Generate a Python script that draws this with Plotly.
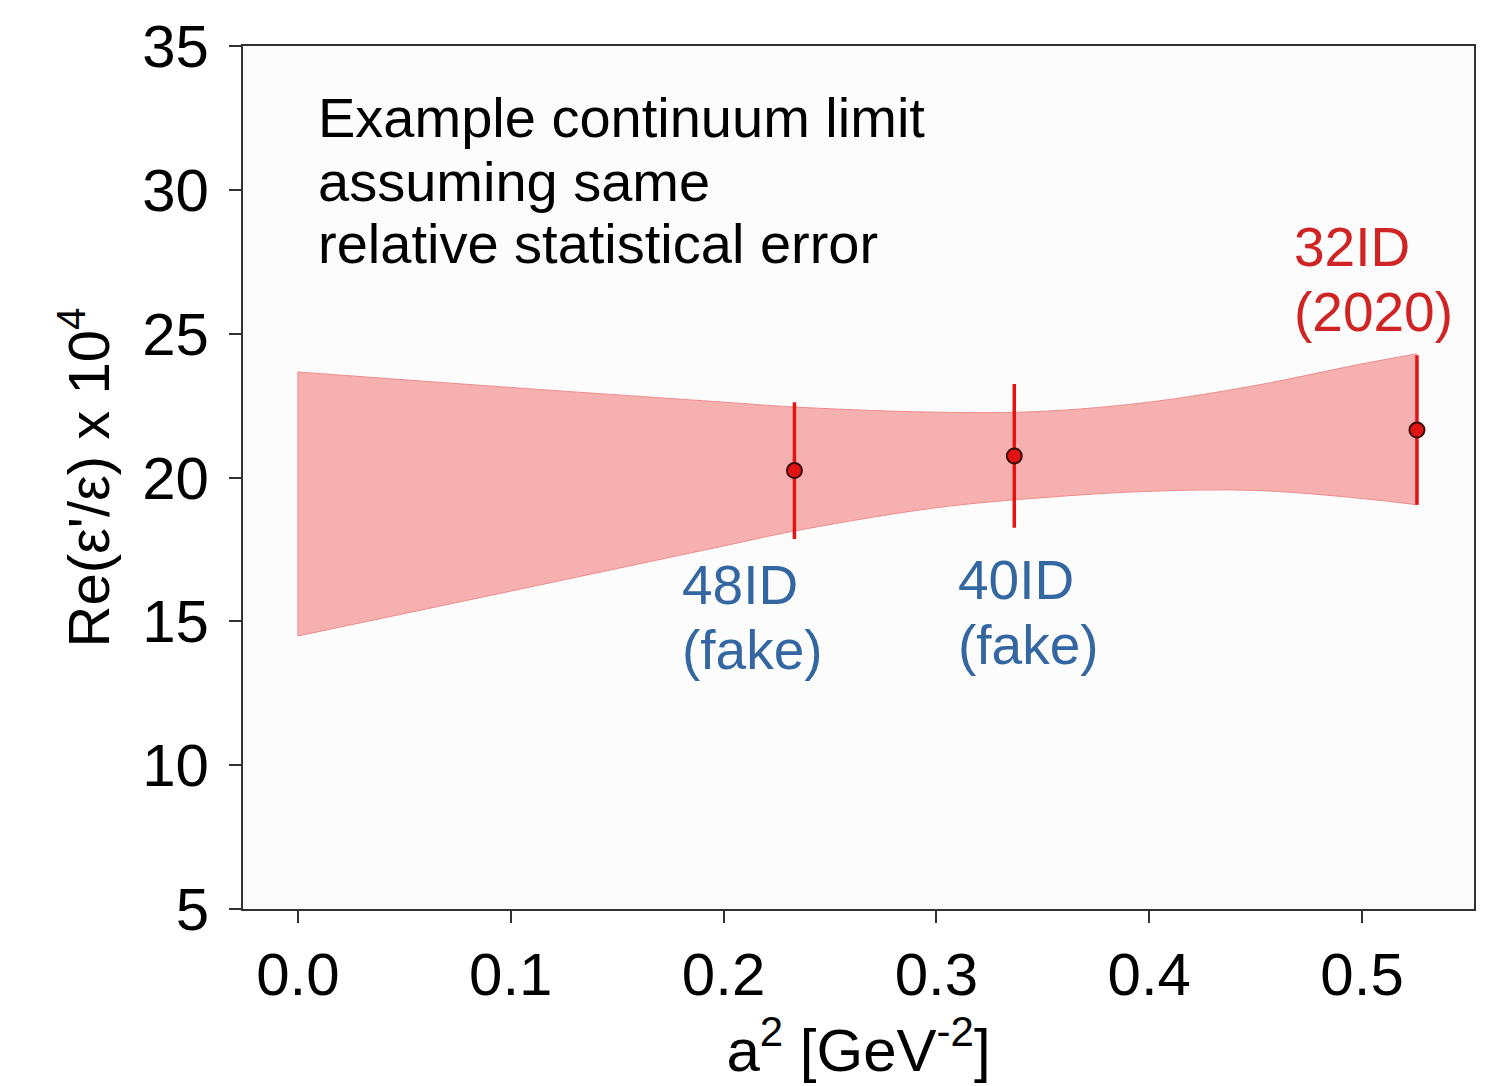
import plotly.graph_objects as go

# Data points (lattice ensembles)
labels = ["48ID", "40ID", "32ID"]
a2 = [0.2333, 0.3366, 0.5258]
eps_ratio = [20.24, 20.75, 21.65]
eps_err = [2.38, 2.5, 2.6]

# Continuum-limit band
band_x = [0.0, 0.1, 0.2, 0.2333, 0.3, 0.35, 0.4, 0.45, 0.5, 0.5258]
band_upper = [23.67, 23.13, 22.62, 22.45, 22.27, 22.3, 22.62, 23.2, 23.95, 24.3]
band_lower = [14.49, 16.05, 17.62, 18.14, 18.95, 19.3, 19.52, 19.55, 19.27, 19.05]

x_ticks = [0.0, 0.1, 0.2, 0.3, 0.4, 0.5]
x_ticktext = ["0.0", "0.1", "0.2", "0.3", "0.4", "0.5"]
y_ticks = [5, 10, 15, 20, 25, 30, 35]

note_lines = ["Example continuum limit", "assuming same", "relative statistical error"]
note_y = [32.5, 30.3, 28.15]
tag_lines = [["32ID", "(2020)"], ["48ID", "(fake)"], ["40ID", "(fake)"]]
tag_x = [0.4671, 0.1793, 0.3094]
tag_y = [[28.0, 25.75], [16.26, 14.0], [16.44, 14.18]]
tag_colors = ["rgb(208,35,35)", "rgb(52,102,162)", "rgb(52,102,162)"]

FONT = "Liberation Sans, Arial, Helvetica, sans-serif"

fig = go.Figure()

fig.add_trace(go.Scatter(
    x=band_x, y=band_lower, mode="lines", line=dict(color="rgb(238,140,140)", width=1, shape="spline"),
    hoverinfo="skip", showlegend=False,
))
fig.add_trace(go.Scatter(
    x=band_x, y=band_upper, mode="lines", fill="tonexty", fillcolor="rgb(247,176,176)",
    line=dict(color="rgb(238,140,140)", width=1, shape="spline"),
    hoverinfo="skip", showlegend=False,
))
# left edge of the band
fig.add_trace(go.Scatter(
    x=[band_x[0], band_x[0]], y=[band_lower[0], band_upper[0]], mode="lines",
    line=dict(color="rgb(238,140,140)", width=1), hoverinfo="skip", showlegend=False,
))

fig.add_trace(go.Scatter(
    x=a2, y=eps_ratio,
    mode="markers",
    marker=dict(size=15, color="rgb(225,20,20)", line=dict(color="rgb(60,10,10)", width=2)),
    error_y=dict(type="data", array=eps_err, visible=True, color="rgb(228,20,20)", thickness=3.5, width=0),
    text=labels, hoverinfo="text",
    showlegend=False,
))

for line, yy in zip(note_lines, note_y):
    fig.add_annotation(
        text=line, x=0.00845, y=yy, xref="x", yref="y", xanchor="left", yanchor="middle",
        showarrow=False, font=dict(family=FONT, size=56, color="black"),
    )

for lines, xx, ys, col in zip(tag_lines, tag_x, tag_y, tag_colors):
    for line, yy in zip(lines, ys):
        fig.add_annotation(
            text=line, x=xx, y=yy, xref="x", yref="y", xanchor="left", yanchor="middle",
            showarrow=False, font=dict(family=FONT, size=55, color=col),
        )

fig.update_layout(
    width=1496, height=1086,
    margin=dict(l=243, r=22, t=46, b=177),
    paper_bgcolor="white",
    plot_bgcolor="rgb(252,252,252)",
    font=dict(family=FONT, size=60, color="black"),
    xaxis=dict(
        range=[-0.0258, 0.5526], tickvals=x_ticks, ticktext=x_ticktext,
        showgrid=False, zeroline=False, showline=True, mirror=True,
        linecolor="rgb(50,50,50)", linewidth=2,
        ticks="outside", ticklen=12, tickwidth=2, tickcolor="rgb(50,50,50)",
        ticklabelstandoff=0,
        tickfont=dict(size=60),
        title=dict(text="a<sup>2</sup> [GeV<sup>-2</sup>]", font=dict(size=60), standoff=0),
    ),
    yaxis=dict(
        range=[5, 35], tickvals=y_ticks,
        showgrid=False, zeroline=False, showline=True, mirror=True,
        linecolor="rgb(50,50,50)", linewidth=2,
        ticks="outside", ticklen=12, tickwidth=2, tickcolor="rgb(50,50,50)",
        ticklabelstandoff=8,
        tickfont=dict(size=60),
        title=dict(text="Re(ε'/ε) x 10<sup>4</sup>", font=dict(size=58), standoff=14),
    ),
)

fig.write_html("out.html")
